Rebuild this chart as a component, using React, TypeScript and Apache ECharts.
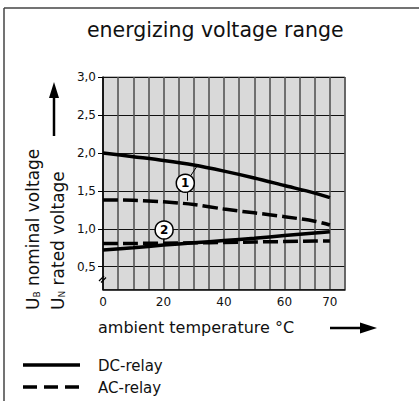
import React, { useEffect, useRef } from "react";
import * as echarts from "echarts";

// grid positions along the temperature axis (last point drawn under the "70" label)
const tempPos = [0, 10, 20, 30, 40, 50, 60, 70, 75];
const dcUpper = [2.0, 1.95, 1.9, 1.84, 1.76, 1.67, 1.57, 1.47, 1.41];
const acUpper = [1.38, 1.375, 1.355, 1.32, 1.26, 1.21, 1.16, 1.1, 1.05];
const dcLower = [0.72, 0.75, 0.785, 0.815, 0.845, 0.875, 0.91, 0.945, 0.96];
const acLower = [0.805, 0.807, 0.81, 0.815, 0.82, 0.826, 0.832, 0.838, 0.84];

const xTickValues = [0, 20, 40, 60, 75];
const xTickLabels = ["0", "20", "40", "60", "70"];
const yTickValues = [0.5, 1.0, 1.5, 2.0, 2.5, 3.0];

const markers = [
  { name: "1", coord: [27.2, 1.6] },
  { name: "2", coord: [20.2, 0.984] },
];
const leaders = [
  [[29.0, 1.7], [31.0, 1.82]],
  [[27.7, 1.485], [27.7, 1.37]],
  [[20.1, 0.865], [20.0, 0.83]],
];

const FONT = "DejaVu Sans, Verdana, sans-serif";
const INK = "#111";

function pairs(xs: number[], ys: number[]) {
  return xs.map((x, i) => [x, ys[i]]);
}

export default function App() {
  const ref = useRef<HTMLDivElement>(null);
  useEffect(() => {
    if (!ref.current) return;
    const chart = echarts.init(ref.current, undefined, { renderer: "svg" });
    const lineBase = { type: "line", showSymbol: false, smooth: 0.3, z: 3 };
    const solid = { color: "#000", width: 3.5, type: "solid" };
    const dashed = { color: "#000", width: 3.5, type: [15, 5] };
    chart.setOption({
      animation: false,
      backgroundColor: "#fff",
      title: {
        text: "energizing voltage range",
        left: 87,
        top: 19,
        padding: 0,
        textStyle: { fontSize: 20.5, fontWeight: "normal", color: INK, fontFamily: FONT },
      },
      grid: {
        left: 103,
        top: 77,
        width: 242,
        height: 212.5,
        show: true,
        backgroundColor: "#d9d9d9",
        borderColor: "#777",
        borderWidth: 1,
      },
      xAxis: {
        type: "value",
        min: 0,
        max: 80,
        interval: 5,
        axisLine: { show: true, onZero: false, lineStyle: { color: "#000", width: 1.5 } },
        axisTick: { show: false },
        splitLine: { show: true, lineStyle: { color: "#555", width: 1.6 } },
        axisLabel: {
          customValues: xTickValues,
          formatter: (v: number) => {
            const i = xTickValues.indexOf(v);
            return i >= 0 ? xTickLabels[i] : "";
          },
          fontSize: 12,
          color: INK,
          fontFamily: FONT,
          margin: 6,
        },
      },
      yAxis: {
        type: "value",
        min: 0.2,
        max: 3.0,
        interval: 0.2,
        axisLine: { show: true, onZero: false, lineStyle: { color: "#000", width: 1.5 } },
        axisTick: {
          show: true,
          customValues: yTickValues,
          length: 5,
          lineStyle: { color: "#000", width: 1 },
        },
        splitLine: { show: true, lineStyle: { color: "#111", width: 1 } },
        axisLabel: {
          customValues: yTickValues,
          formatter: (v: number) => v.toFixed(1).replace(".", ","),
          fontSize: 12,
          color: INK,
          fontFamily: FONT,
          margin: 7,
        },
      },
      series: [
        {
          ...lineBase,
          name: "DC upper",
          data: pairs(tempPos, dcUpper),
          lineStyle: solid,
          markLine: {
            silent: true,
            symbol: ["none", "none"],
            label: { show: false },
            lineStyle: { color: "#000", width: 1, type: "solid" },
            data: leaders.map((l) => [{ coord: l[0] }, { coord: l[1] }]),
          },
          markPoint: {
            silent: true,
            symbol: "circle",
            symbolSize: 18,
            itemStyle: { color: "#fff", borderColor: "#000", borderWidth: 1.5 },
            label: {
              show: true,
              color: "#000",
              fontSize: 12,
              fontWeight: "bold",
              fontFamily: FONT,
              formatter: (p: any) => p.name,
            },
            data: markers.map((m) => ({ name: m.name, coord: m.coord })),
          },
        },
        { ...lineBase, name: "AC upper", data: pairs(tempPos, acUpper), lineStyle: dashed },
        { ...lineBase, name: "DC lower", data: pairs(tempPos, dcLower), lineStyle: solid },
        { ...lineBase, name: "AC lower", data: pairs(tempPos, acLower), lineStyle: dashed },
      ],
      graphic: [
        // frame
        { type: "line", shape: { x1: 4, y1: 8, x2: 419, y2: 8 }, style: { stroke: "#444", lineWidth: 1.5 } },
        { type: "line", shape: { x1: 4, y1: 8, x2: 4, y2: 401 }, style: { stroke: "#444", lineWidth: 1.5 } },
        // axis break mark
        { type: "line", shape: { x1: 99, y1: 281, x2: 104, y2: 276 }, style: { stroke: "#000", lineWidth: 1.2 }, z: 10 },
        { type: "line", shape: { x1: 101, y1: 282.5, x2: 106, y2: 277.5 }, style: { stroke: "#000", lineWidth: 1.2 }, z: 10 },
        // y axis names
        {
          type: "text",
          x: 33,
          y: 310,
          rotation: Math.PI / 2,
          style: {
            text: "{u|U}{s|B}{u| nominal voltage}",
            rich: {
              u: { fontSize: 17, fontFamily: FONT, fill: INK },
              s: { fontSize: 9, fontFamily: FONT, fill: INK, verticalAlign: "bottom" },
            },
            textAlign: "left",
            textVerticalAlign: "middle",
          },
        },
        {
          type: "text",
          x: 58,
          y: 310,
          rotation: Math.PI / 2,
          style: {
            text: "{u|U}{s|N}{u| rated voltage}",
            rich: {
              u: { fontSize: 17, fontFamily: FONT, fill: INK },
              s: { fontSize: 9, fontFamily: FONT, fill: INK, verticalAlign: "bottom" },
            },
            textAlign: "left",
            textVerticalAlign: "middle",
          },
        },
        // up arrow
        { type: "line", shape: { x1: 54, y1: 136, x2: 54, y2: 96 }, style: { stroke: "#000", lineWidth: 2.5 } },
        { type: "polygon", shape: { points: [[49, 98], [54, 82], [59, 98]] }, style: { fill: "#000" } },
        // x axis name
        {
          type: "text",
          x: 98,
          y: 327,
          style: {
            text: "ambient temperature °C",
            fontSize: 16,
            fontFamily: FONT,
            fill: INK,
            textAlign: "left",
            textVerticalAlign: "middle",
          },
        },
        // right arrow
        { type: "line", shape: { x1: 330, y1: 328, x2: 363, y2: 328 }, style: { stroke: "#000", lineWidth: 2.5 } },
        { type: "polygon", shape: { points: [[360, 322.5], [377, 328], [360, 333.5]] }, style: { fill: "#000" } },
        // legend
        { type: "line", shape: { x1: 23, y1: 365, x2: 80, y2: 365 }, style: { stroke: "#000", lineWidth: 3.5 } },
        {
          type: "text",
          x: 98,
          y: 366,
          style: { text: "DC-relay", fontSize: 15, fontFamily: FONT, fill: INK, textAlign: "left", textVerticalAlign: "middle" },
        },
        {
          type: "line",
          shape: { x1: 23, y1: 387, x2: 80, y2: 387 },
          style: { stroke: "#000", lineWidth: 3.5, lineDash: [14, 7] },
        },
        {
          type: "text",
          x: 98,
          y: 388,
          style: { text: "AC-relay", fontSize: 15, fontFamily: FONT, fill: INK, textAlign: "left", textVerticalAlign: "middle" },
        },
      ],
    });
    return () => chart.dispose();
  }, []);
  return (
    <div
      ref={ref}
      style={{ position: "fixed", left: 0, top: 0, width: 419, height: 401, background: "#fff" }}
    />
  );
}
